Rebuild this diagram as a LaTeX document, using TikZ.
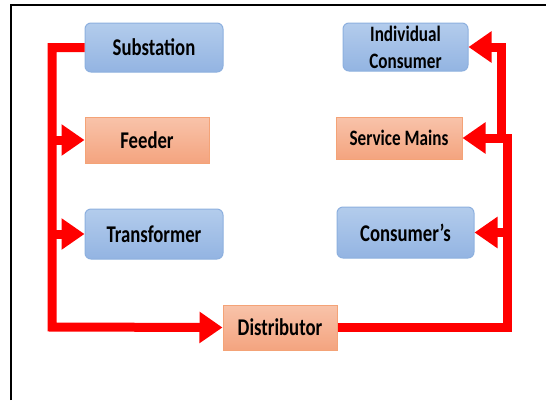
\documentclass[tikz,border=0pt]{standalone}
\usepackage{fontspec}
\newfontfamily\lab[FakeStretch=0.78]{Carlito}
\usetikzlibrary{arrows.meta}
\definecolor{bluetop}{HTML}{B3CCEC}
\definecolor{bluebot}{HTML}{93B4E2}
\definecolor{blueedge}{HTML}{8DB0DF}
\definecolor{ortop}{HTML}{F8C3AA}
\definecolor{orbot}{HTML}{F4A47F}
\definecolor{oredge}{HTML}{F4A377}
\definecolor{wirered}{HTML}{FF0000}
\tikzset{
  bluebox/.style={draw=blueedge, line width=1pt, rounded corners=6pt,
    top color=bluetop, bottom color=bluebot, inner sep=0pt, align=center,
    font=\lab\bfseries\fontsize{24}{27}\selectfont},
  orbox/.style={draw=oredge, line width=1pt,
    top color=ortop, bottom color=orbot, inner sep=0pt, align=center,
    font=\lab\bfseries\fontsize{24}{27}\selectfont},
  wire/.style={draw=wirered, line width=9pt, line join=miter},
  tip/.style={-{Triangle[length=23pt,width=30pt]}},
  frame/.style={draw=black, line width=2pt}
}
\begin{document}
\begin{tikzpicture}[x=1pt,y=-1pt]
\useasboundingbox (0,0) rectangle (546,400);
\fill[white] (0,0) rectangle (546,400);
\coordinate (fa) at (10.5,400);
\coordinate (fb) at (10.5,5);
\coordinate (fc) at (546,5);
\draw[frame] (fa) -- (fb) -- (fc);

\node[bluebox, minimum width=138pt, minimum height=49pt] (sub) at (154,47.5) {Substation};
\node[orbox, minimum width=124pt, minimum height=46pt] (feed) at (147,140) {Feeder};
\node[bluebox, minimum width=138pt, minimum height=50pt] (trans) at (154,234) {Transformer};
\node[bluebox, minimum width=125pt, minimum height=48pt, font=\lab\bfseries\fontsize{22}{27}\selectfont] (ind) at (405.5,47) {Individual\\Consumer};
\node[orbox, minimum width=126pt, minimum height=42pt, font=\lab\bfseries\fontsize{22}{26}\selectfont] (serv) at (399,138) {Service Mains};
\node[bluebox, minimum width=137pt, minimum height=51pt] (cons) at (405.5,232.5) {Consumer’s};
\node[orbox, minimum width=114pt, minimum height=45pt] (dist) at (280,327.5) {Distributor};

\coordinate (cL) at (52,327);
\coordinate (cR) at (507,327);
\coordinate (cR2) at (501,138);

\draw[wire, tip] (sub.west) -| (cL) -- (dist.west);
\draw[wire, tip] (feed.west -| cL) -- (feed.west);
\draw[wire, tip] (trans.west -| cL) -- (trans.west);
\draw[wire, tip] (dist.east) -| (cR |- serv.east) -- (serv.east);
\draw[wire, tip] (cons.east -| cR) -- (cons.east);
\draw[wire, tip] (cR2) |- (ind.east);
\end{tikzpicture}
\end{document}
